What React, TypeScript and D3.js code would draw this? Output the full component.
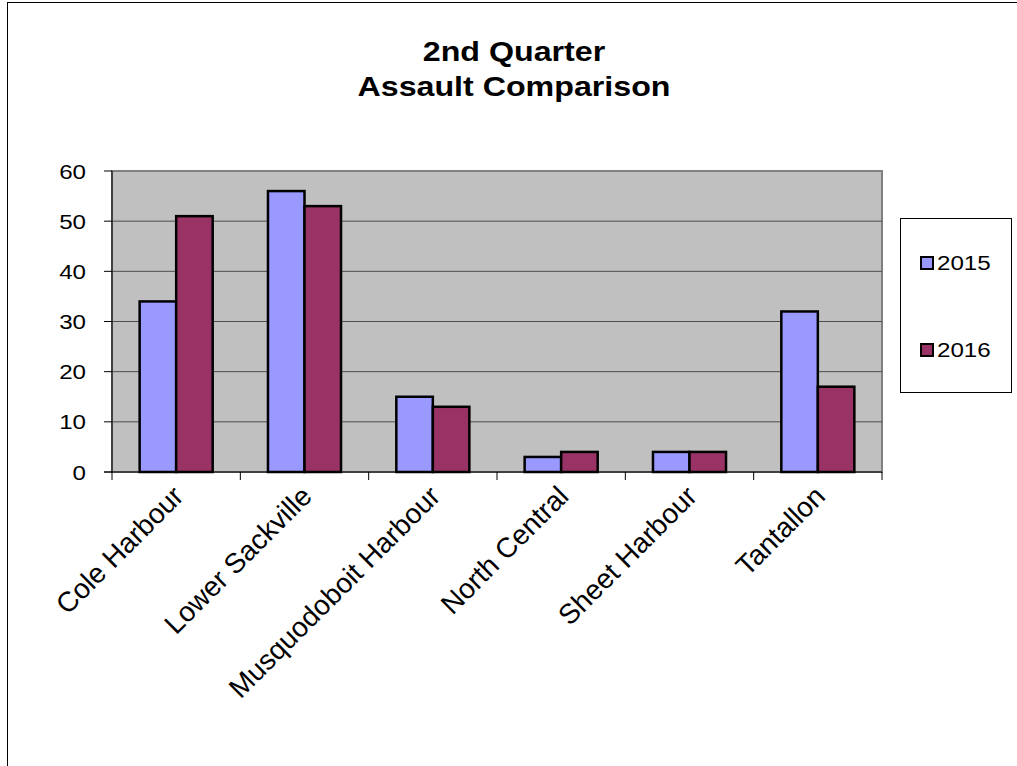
import * as d3 from 'd3'

const categories = ['Cole Harbour', 'Lower Sackville', 'Musquodoboit Harbour', 'North Central', 'Sheet Harbour', 'Tantallon']
const series = ['2015', '2016']
const values2015 = [34, 56, 15, 3, 4, 32]
const values2016 = [51, 53, 13, 4, 4, 17]
const yTicks = [0, 10, 20, 30, 40, 50, 60]
const colors = ['#9999ff', '#993366']

const W = 1017
const H = 766
const plot = { left: 112, right: 882, top: 171, bottom: 472 }
const font = 'Arial, "Liberation Sans", sans-serif'
// the source picture is stretched sideways, so text gets the same stretch
const SX = 1.15

export default function App() {
  const x0 = d3.scaleBand<string>().domain(categories).range([plot.left, plot.right]).padding(0)
  const x1 = d3.scaleBand<string>().domain(series).range([0, x0.bandwidth()]).paddingInner(0).paddingOuter(0.757)
  const y = d3.scaleLinear().domain([0, 60]).range([plot.bottom, plot.top])
  const seriesValues = [values2015, values2016]

  return (
    <svg width={W} height={H} style={{ position: 'absolute', left: 0, top: 0, background: '#fff' }} fontFamily={font}>
      <rect x={7.5} y={2.5} width={W + 20} height={H + 20} fill="#fff" stroke="#000" strokeWidth={1} />

      <text transform={`translate(514,61) scale(${SX},1)`} textAnchor="middle" fontSize={28} fontWeight="bold">2nd Quarter</text>
      <text transform={`translate(514,96) scale(${SX},1)`} textAnchor="middle" fontSize={28} fontWeight="bold">Assault Comparison</text>

      <rect x={plot.left} y={plot.top} width={plot.right - plot.left} height={plot.bottom - plot.top} fill="#c0c0c0" stroke="#808080" strokeWidth={2} />

      {yTicks.filter((t) => t > 0 && t < 60).map((t) => (
        <line key={t} x1={plot.left} x2={plot.right} y1={y(t)} y2={y(t)} stroke="#4d4d4d" strokeWidth={1} />
      ))}

      {categories.map((c, i) => (
        <g key={c}>
          {series.map((s, j) => (
            <rect
              key={s}
              x={(x0(c) ?? 0) + (x1(s) ?? 0)}
              y={y(seriesValues[j][i])}
              width={x1.bandwidth()}
              height={y(0) - y(seriesValues[j][i])}
              fill={colors[j]}
              stroke="#000"
              strokeWidth={2.5}
            />
          ))}
        </g>
      ))}

      {/* axes */}
      <line x1={plot.left} x2={plot.left} y1={plot.top} y2={plot.bottom} stroke="#000" strokeWidth={1} />
      <line x1={plot.left - 8} x2={plot.right} y1={plot.bottom} y2={plot.bottom} stroke="#000" strokeWidth={1} />
      {yTicks.map((t) => (
        <g key={t}>
          <line x1={plot.left - 8} x2={plot.left} y1={y(t)} y2={y(t)} stroke="#000" strokeWidth={1} />
          <text transform={`translate(86,${y(t)}) scale(${SX},1)`} dy="0.36em" textAnchor="end" fontSize={21}>{t}</text>
        </g>
      ))}
      {d3.range(categories.length + 1).map((i) => {
        const xv = plot.left + i * x0.step()
        return <line key={i} x1={xv} x2={xv} y1={plot.bottom} y2={plot.bottom + 8} stroke="#000" strokeWidth={1} />
      })}
      {categories.map((c) => {
        const cx = (x0(c) ?? 0) + x0.bandwidth() / 2
        return (
          <text key={c} transform={`translate(${cx + 9},${plot.bottom + 26}) rotate(-45)`} textAnchor="end" fontSize={28}>
            {c}
          </text>
        )
      })}

      {/* legend */}
      <rect x={900.5} y={218.5} width={111} height={174} fill="#fff" stroke="#000" strokeWidth={1} />
      {series.map((s, j) => {
        const ly = j === 0 ? 263 : 350
        return (
          <g key={s}>
            <rect x={921} y={ly - 6} width={12} height={12} fill={colors[j]} stroke="#000" strokeWidth={2} />
            <text transform={`translate(937,${ly + 7}) scale(${SX},1)`} fontSize={21}>{s}</text>
          </g>
        )
      })}
    </svg>
  )
}
